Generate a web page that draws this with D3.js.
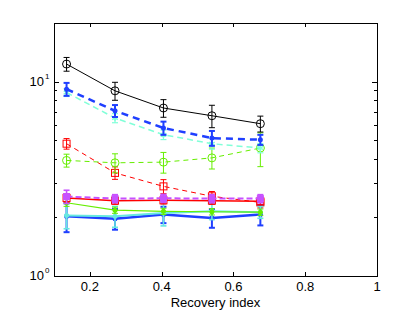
<!DOCTYPE html>
<html>
<head>
<meta charset="utf-8">
<script src="https://cdn.jsdelivr.net/npm/d3@7"></script>
<style>
  body { margin: 0; background: #fff; }
  text { font-family: "Liberation Sans", Arial, sans-serif; font-size: 13px; fill: #000; }
</style>
</head>
<body>
<div id="chart"></div>
<script>
const xVals = [0.135, 0.27, 0.405, 0.54, 0.675]
const xTicks = [0.2, 0.4, 0.6, 0.8, 1]
const xLabel = "Recovery index"

// series values and ± errors
const blackY = [12.3, 8.96, 7.31, 6.67, 6.07]
const blackE = [1.0, 0.95, 0.76, 0.88, 0.57]
const blueDashY = [9.14, 7.07, 5.77, 5.12, 5.02]
const blueDashE = [0.7, 0.5, 0.45, 0.45, 0.3]
const cyanDashY = [8.78, 6.49, 5.33, 4.79, 4.55]
const cyanDashE = [0.4, 0.35, 0.3, 0.3, 0.25]
const greenDashY = [3.93, 3.82, 3.85, 4.05, 4.55]
const greenDashE = [0.3, 0.43, 0.47, 0.5, 0.9]
const redDashY = [4.79, 3.39, 2.89, 2.57, 2.39]
const redDashE = [0.3, 0.25, 0.24, 0.15, 0.15]
const purpleY = [2.56, 2.5, 2.51, 2.5, 2.5]
const purpleE = [0.2, 0.12, 0.12, 0.12, 0.12]
const redY = [2.52, 2.44, 2.45, 2.44, 2.42]
const redE = [0.12, 0.1, 0.1, 0.1, 0.1]
const greenY = [2.38, 2.18, 2.15, 2.14, 2.13]
const greenE = [0.1, 0.08, 0.08, 0.08, 0.08]
const cyanY = [2.05, 2.03, 2.11, 2.15, 2.13]
const cyanE = [0.3, 0.25, 0.3, 0.2, 0.15]
const blueY = [2.03, 1.97, 2.07, 1.99, 2.07]
const blueE = [0.35, 0.24, 0.2, 0.22, 0.25]

const series = [
  { y: redDashY, e: redDashE, color: "#ff0000", width: 1, dash: "5,4", marker: "square" },
  { y: greenDashY, e: greenDashE, color: "#66ee00", width: 1, dash: "5,4", marker: "circle" },
  { y: cyanDashY, e: cyanDashE, color: "#80ffd8", width: 1.5, dash: "6,4", marker: "star" },
  { y: blueDashY, e: blueDashE, color: "#1f3fff", width: 2.5, dash: "7,5", marker: "dot" },
  { y: blackY, e: blackE, color: "#000000", width: 1, dash: null, marker: "circle" },
  { y: blueY, e: blueE, color: "#1f3fff", width: 2.5, dash: null, marker: "dot" },
  { y: cyanY, e: cyanE, color: "#66e8e0", width: 2, dash: null, marker: "dot" },
  { y: greenY, e: greenE, color: "#66ee00", width: 1.2, dash: null, marker: "dot" },
  { y: redY, e: redE, color: "#ff0000", width: 1.5, dash: null, marker: "square" },
  { y: purpleY, e: purpleE, color: "#c850ff", width: 2, dash: "6,3", marker: "fsquare" },
]

const w = 415
const h = 312
const mLeft = 54, mRight = 377, mTop = 23, mBottom = 276

const svg = d3.select("#chart").append("svg").attr("width", w).attr("height", h)

const x = d3.scaleLinear().domain([0.1, 1]).range([mLeft, mRight])
const y = d3.scaleLog().domain([1, 20]).range([mBottom, mTop])

// box
svg.append("rect")
  .attr("x", mLeft + 0.5).attr("y", mTop + 0.5)
  .attr("width", mRight - mLeft).attr("height", mBottom - mTop)
  .attr("fill", "none").attr("stroke", "#000").attr("stroke-width", 1)

// x ticks (bottom and top, inward)
xTicks.forEach(t => {
  const px = Math.round(x(t)) + 0.5
  svg.append("line").attr("x1", px).attr("x2", px).attr("y1", mBottom).attr("y2", mBottom - 4).attr("stroke", "#000")
  svg.append("line").attr("x1", px).attr("x2", px).attr("y1", mTop).attr("y2", mTop + 4).attr("stroke", "#000")
  svg.append("text").attr("x", x(t)).attr("y", mBottom + 15).attr("text-anchor", "middle").text(t)
})

svg.append("text").attr("x", (mLeft + mRight) / 2).attr("y", mBottom + 31)
  .attr("text-anchor", "middle").text(xLabel)

// y ticks
const yMinor = [2, 3, 4, 5, 6, 7, 8, 9, 20]
yMinor.forEach(t => {
  const py = Math.round(y(t)) + 0.5
  svg.append("line").attr("x1", mLeft).attr("x2", mLeft + 3).attr("y1", py).attr("y2", py).attr("stroke", "#000")
  svg.append("line").attr("x1", mRight).attr("x2", mRight - 3).attr("y1", py).attr("y2", py).attr("stroke", "#000")
})
;[1, 10].forEach(t => {
  const py = Math.round(y(t)) + 0.5
  svg.append("line").attr("x1", mLeft).attr("x2", mLeft + 5).attr("y1", py).attr("y2", py).attr("stroke", "#000")
  svg.append("line").attr("x1", mRight).attr("x2", mRight - 5).attr("y1", py).attr("y2", py).attr("stroke", "#000")
  svg.append("text").attr("x", mLeft - 10).attr("y", y(t) + 4).attr("text-anchor", "end").text("10")
  svg.append("text").attr("x", mLeft - 9).attr("y", y(t) - 3)
    .style("font-size", "8px").text(t === 1 ? "0" : "1")
})

const line = d3.line().x((d, i) => x(xVals[i])).y(d => y(d))

series.forEach(s => {
  const g = svg.append("g")
  // error bars
  s.y.forEach((v, i) => {
    const px = x(xVals[i])
    const y1 = y(v - s.e[i]), y2 = y(v + s.e[i])
    const ew = Math.max(1, s.width * 0.8)
    g.append("line").attr("x1", px).attr("x2", px).attr("y1", y1).attr("y2", y2)
      .attr("stroke", s.color).attr("stroke-width", ew)
    ;[y1, y2].forEach(yy => {
      g.append("line").attr("x1", px - 3).attr("x2", px + 3).attr("y1", yy).attr("y2", yy)
        .attr("stroke", s.color).attr("stroke-width", ew)
    })
  })
  g.append("path").datum(s.y).attr("d", line)
    .attr("fill", "none").attr("stroke", s.color).attr("stroke-width", s.width)
    .attr("stroke-dasharray", s.dash)
  s.y.forEach((v, i) => {
    const px = x(xVals[i]), py = y(v)
    if (s.marker === "circle") {
      g.append("circle").attr("cx", px).attr("cy", py).attr("r", 4)
        .attr("fill", "none").attr("stroke", s.color).attr("stroke-width", 1)
    } else if (s.marker === "square") {
      g.append("rect").attr("x", px - 3.5).attr("y", py - 3.5).attr("width", 7).attr("height", 7)
        .attr("fill", "none").attr("stroke", s.color).attr("stroke-width", 1)
    } else if (s.marker === "fsquare") {
      g.append("rect").attr("x", px - 3).attr("y", py - 3).attr("width", 6).attr("height", 6)
        .attr("fill", s.color).attr("stroke", s.color).attr("stroke-width", 1)
    } else if (s.marker === "star") {
      g.append("path").attr("d", d3.symbol(d3.symbolAsterisk, 30)())
        .attr("transform", `translate(${px},${py})`).attr("stroke", s.color).attr("stroke-width", 1.5)
    } else {
      g.append("circle").attr("cx", px).attr("cy", py).attr("r", 2.5).attr("fill", s.color)
    }
  })
})
</script>
</body>
</html>
